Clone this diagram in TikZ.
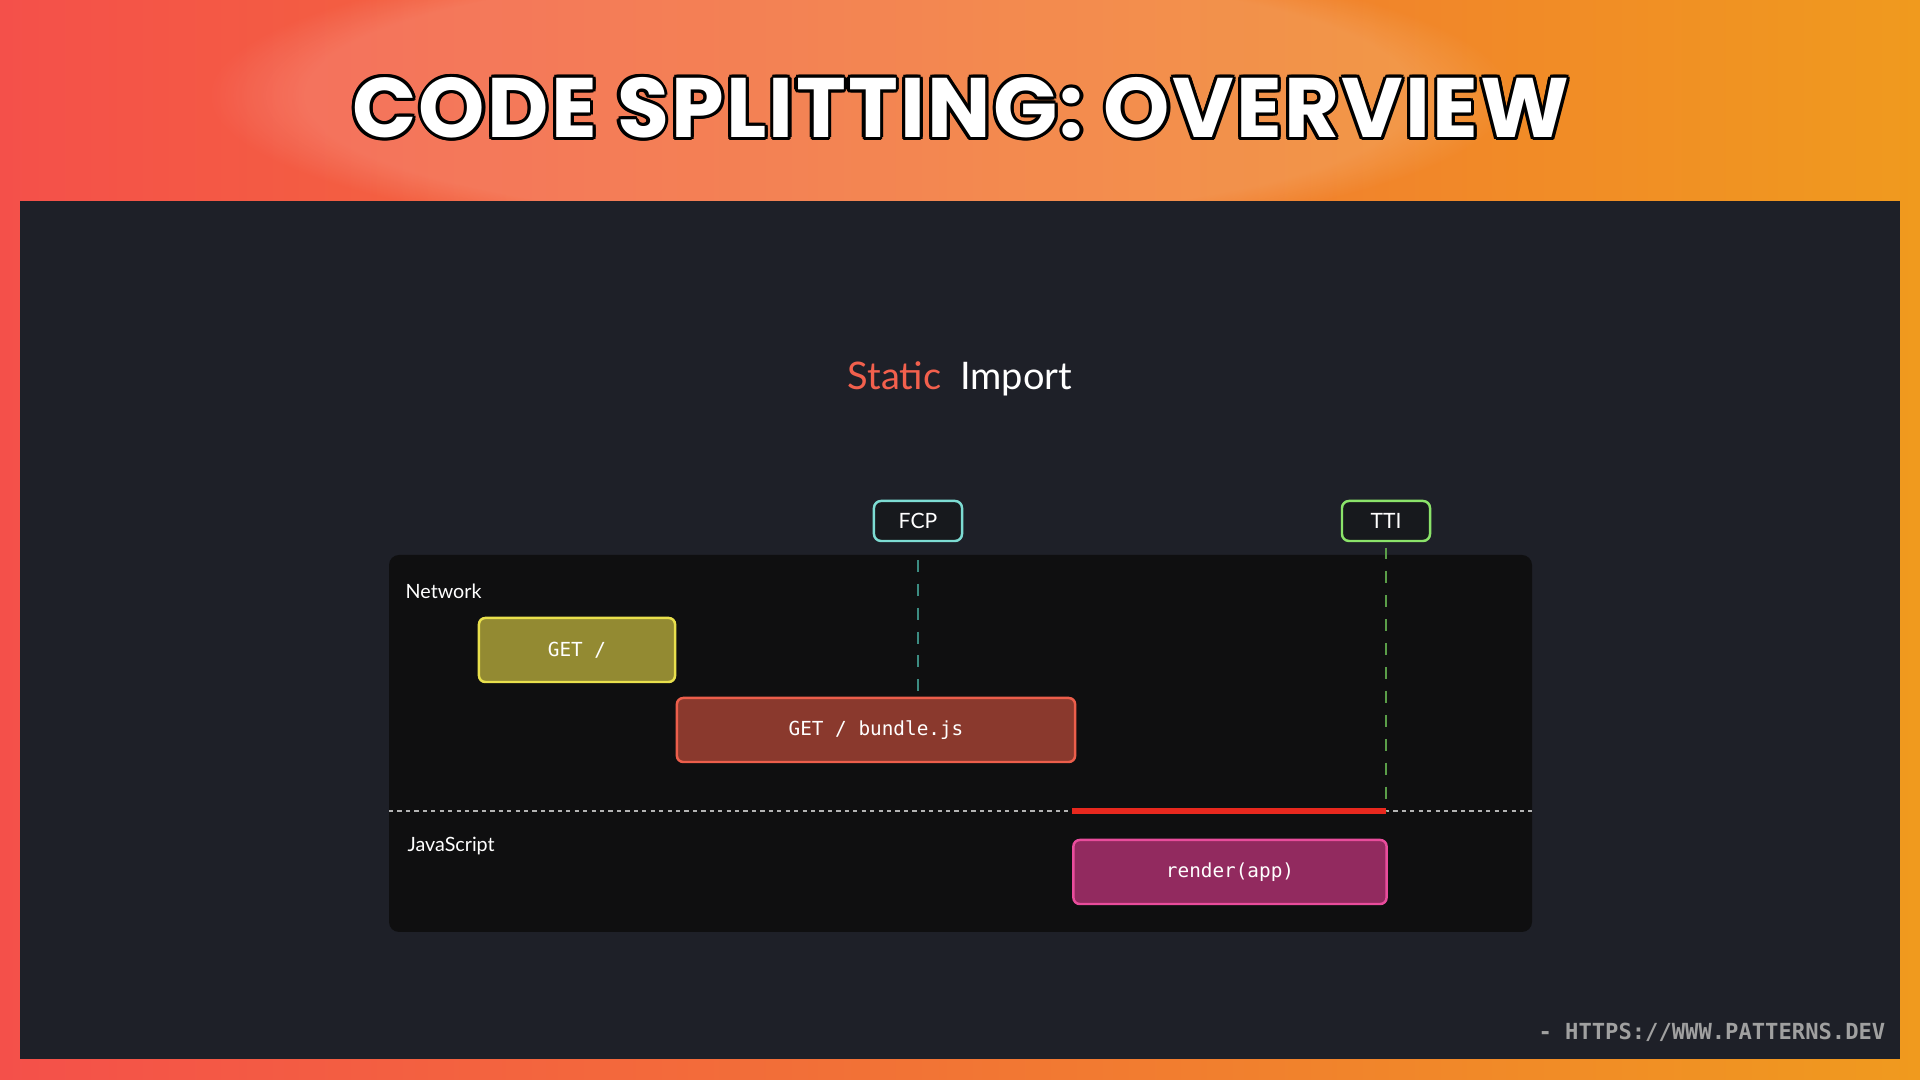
\documentclass[tikz,border=0pt]{standalone}
\usepackage{fontspec}
\setmainfont{Lato}
\setmonofont{DejaVu Sans Mono}
\newfontfamily\titlefont{Poppins}[LetterSpace=2.7]
\usetikzlibrary{positioning, calc, fadings}
\definecolor{bgred}{HTML}{F4504A}
\definecolor{bgmid}{HTML}{F47838}
\definecolor{bgorange}{HTML}{F09A1E}
\definecolor{slate}{HTML}{1E2028}
\definecolor{lanebg}{HTML}{0F0F10}
\definecolor{markfill}{HTML}{17191D}
\definecolor{staticred}{HTML}{F2604D}
\definecolor{getfill}{HTML}{938A32}
\definecolor{getline}{HTML}{E9E04C}
\definecolor{bundlefill}{HTML}{8A392D}
\definecolor{bundleline}{HTML}{EC5E4B}
\definecolor{renderfill}{HTML}{922A5F}
\definecolor{renderline}{HTML}{E94C9C}
\definecolor{fcpline}{HTML}{7DDCD3}
\definecolor{fcpdash}{HTML}{3C8C82}
\definecolor{ttiline}{HTML}{8BE36A}
\definecolor{ttidash}{HTML}{5A9E48}
\definecolor{blocked}{HTML}{E8281E}
\definecolor{divider}{HTML}{B4B4B4}
\definecolor{footgray}{HTML}{A0A0A0}
\tikzset{
  titletext/.style={font=\titlefont\bfseries\fontsize{24}{26}\selectfont, inner sep=0pt},
  bar/.style={draw, rectangle, rounded corners=1.8pt, line width=0.7pt, minimum height=0.64cm, align=center, text=white, font=\ttfamily\fontsize{5.5}{6}\selectfont},
  marker/.style={draw, rectangle, rounded corners=2pt, line width=0.7pt, fill=markfill, minimum width=0.88cm, minimum height=0.4cm, text=white, font=\fontsize{6}{7}\selectfont},
  lane/.style={text=white, anchor=west, inner sep=0pt, font=\fontsize{5.6}{6}\selectfont},
  guide/.style={dash pattern=on 3.4pt off 3.4pt, line width=0.6pt}
}

\begin{document}
\begin{tikzpicture}[x=0.01cm, y=-0.01cm]
  \useasboundingbox (0,0) rectangle (1920,1080);

  % Backdrop
  \shade[left color=bgred, middle color=bgmid, right color=bgorange] (0,0) rectangle (1920,1080);
  \fill[white, opacity=0.14, path fading=circle with fuzzy edge 15 percent] (860,95) ellipse (6.5cm and 1.5cm);
  \fill[slate] (20,201) rectangle (1900,1059);

  % Title with outline
  \coordinate (titlepos) at (961,108);
  \foreach \a in {0,30,...,330}
    \node[titletext, text=black] at ($(titlepos)+(\a:3.2)$) {CODE SPLITTING: OVERVIEW};
  \node[titletext, text=white] (title) at (titlepos) {CODE SPLITTING: OVERVIEW};

  % Heading
  \node[font=\fontsize{10.8}{12}\selectfont, text=white] (heading) at (960,379) {\textcolor{staticred}{Static}\enspace Import};

  % Lanes
  \fill[lanebg, rounded corners=0.1cm] (389,555) rectangle (1532,932);
  \node[lane] (network) at (405,591) {Network};
  \node[lane] (javascript) at (407,846) {JavaScript};
  \coordinate (divL) at (389,811);
  \coordinate (divR) at (1532,811);
  \draw[divider, line width=0.55pt, dash pattern=on 1.2pt off 1.2pt] (divL) -- (divR);

  % Requests and tasks
  \node[bar, fill=getfill, draw=getline, minimum width=1.96cm] (get) at (577,650) {GET /};
  \node[bar, fill=bundlefill, draw=bundleline, minimum width=3.98cm] (bundle) at (876,730) {GET / bundle.js};
  \node[bar, fill=renderfill, draw=renderline, minimum width=3.13cm] (render) at (1230,872) {render(app)};

  % Metrics
  \node[marker, draw=fcpline] (fcp) at (918,521) {FCP};
  \node[marker, draw=ttiline] (tti) at (1386,521) {TTI};
  \draw[guide, fcpdash] ([yshift=-5pt]fcp.south) -- (fcp.south |- bundle.north);
  \draw[guide, ttidash] ([yshift=-1.5pt]tti.south) -- (tti.south |- divL);
  \draw[blocked, line width=1.8pt] (render.west |- divL) -- (tti.south |- divL);

  % Credit
  \node[anchor=east, inner sep=0pt, text=footgray, font=\ttfamily\bfseries\fontsize{6.3}{7}\selectfont] (credit) at (1886,1032) {- HTTPS://WWW.PATTERNS.DEV};
\end{tikzpicture}
\end{document}
